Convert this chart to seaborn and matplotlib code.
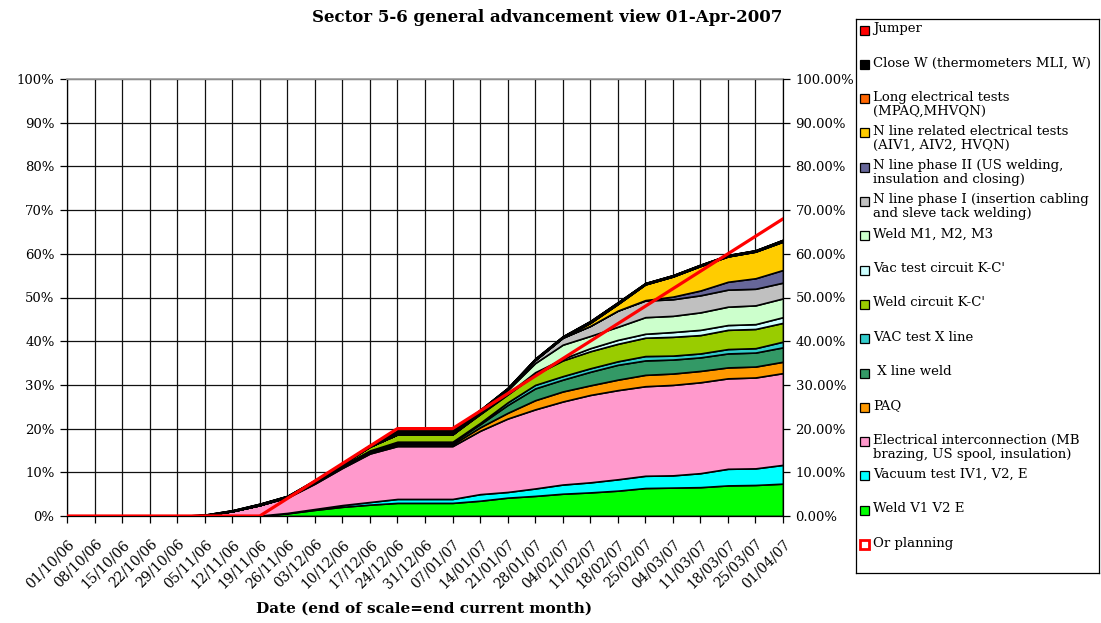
import matplotlib
matplotlib.use('Agg')
import matplotlib.pyplot as plt
from matplotlib.patches import Rectangle
import numpy as np
import seaborn as sns

# weekly dates on the category axis
dates = ['01/10/06', '08/10/06', '15/10/06', '22/10/06', '29/10/06', '05/11/06',
         '12/11/06', '19/11/06', '26/11/06', '03/12/06', '10/12/06', '17/12/06',
         '24/12/06', '31/12/06', '07/01/07', '14/01/07', '21/01/07', '28/01/07',
         '04/02/07', '11/02/07', '18/02/07', '25/02/07', '04/03/07', '11/03/07',
         '18/03/07', '25/03/07', '01/04/07']

# stacked activity shares (% of sector), bottom to top
weld_v1v2e = [0, 0, 0, 0, 0, 0, 0, 0.1, 0.6, 1.4, 2.1, 2.6, 3.0, 3.0, 3.0, 3.5, 4.2, 4.6,
              5.1, 5.4, 5.8, 6.4, 6.5, 6.6, 7.0, 7.1, 7.4]
vacuum_test = [0, 0, 0, 0, 0, 0, 0, 0, 0.1, 0.2, 0.4, 0.6, 0.9, 0.9, 0.9, 1.5, 1.3, 1.7,
               2.1, 2.3, 2.6, 2.8, 2.8, 3.2, 3.8, 3.8, 4.3]
elec_interconn = [0, 0, 0, 0, 0, 0.2, 1.1, 2.4, 3.5, 5.8, 8.5, 11.1, 12.1, 12.1, 12.1, 14.5,
                  16.8, 18.1, 19.0, 20.0, 20.4, 20.5, 20.7, 20.8, 20.7, 20.8, 21.0]
paq = [0, 0, 0, 0, 0, 0, 0, 0, 0.1, 0.2, 0.3, 0.3, 0.4, 0.4, 0.4, 0.8, 1.3, 2.1,
       2.3, 2.2, 2.4, 2.6, 2.6, 2.6, 2.5, 2.5, 2.6]
x_line_weld = [0, 0, 0, 0, 0, 0, 0, 0, 0.05, 0.2, 0.2, 0.3, 0.4, 0.4, 0.4, 0.7, 1.8, 2.7,
               2.7, 3.1, 3.4, 3.3, 3.2, 3.1, 3.2, 3.2, 3.3]
vac_x_line = [0, 0, 0, 0, 0, 0, 0, 0, 0.05, 0.05, 0.1, 0.1, 0.2, 0.2, 0.2, 0.3, 0.6, 0.8,
              0.8, 0.8, 0.8, 1.0, 0.9, 0.9, 1.0, 1.0, 1.3]
weld_kc = [0, 0, 0, 0, 0, 0, 0, 0, 0, 0.1, 0.3, 0.9, 1.7, 1.7, 1.7, 2.0, 1.8, 2.4,
           3.6, 3.9, 4.0, 4.2, 4.3, 4.2, 4.4, 4.4, 4.3]
vac_kc = [0, 0, 0, 0, 0, 0, 0, 0, 0, 0, 0, 0, 0, 0, 0, 0.1, 0.2, 0.5,
          0.4, 0.7, 0.9, 0.9, 1.1, 1.2, 1.1, 1.1, 1.3]
weld_m = [0, 0, 0, 0, 0, 0, 0, 0, 0, 0, 0, 0, 0, 0, 0, 0.4, 0.8, 2.1,
          3.2, 2.8, 3.0, 3.8, 3.7, 4.0, 4.2, 4.3, 4.3]
n_phase1 = [0, 0, 0, 0, 0, 0, 0, 0, 0, 0, 0, 0, 0, 0, 0, 0.1, 0.2, 0.7,
            1.6, 2.3, 3.7, 3.8, 3.8, 3.9, 3.9, 3.8, 3.6]
n_phase2 = [0, 0, 0, 0, 0, 0, 0, 0, 0, 0, 0, 0, 0, 0, 0, 0, 0, 0,
            0, 0, 0, 0.1, 0.6, 1.1, 1.8, 2.4, 2.9]
n_elec = [0, 0, 0, 0, 0, 0, 0, 0, 0, 0, 0, 0, 0, 0, 0, 0, 0, 0,
          0, 0.7, 1.5, 3.6, 4.6, 5.6, 5.8, 6.1, 6.5]
long_elec = [0] * 27
close_w = [0, 0, 0, 0, 0, 0.1, 0.2, 0.3, 0.2, 0.25, 0.2, 0.3, 0.8, 0.8, 0.8, 0.4, 0.3, 0.3,
           0.3, 0.4, 0.4, 0.3, 0.3, 0.3, 0.3, 0.3, 0.4]
jumper = [0] * 27

# planned progress
planning = [0, 0, 0, 0, 0, 0, 0, 0, 4, 8, 12, 16, 20, 20, 20, 24, 28, 32,
            36, 40, 44, 48, 52, 56, 60, 64, 68]

labels = ['Weld V1 V2 E', 'Vacuum test IV1, V2, E',
          'Electrical interconnection (MB\nbrazing, US spool, insulation)',
          'PAQ', ' X line weld', 'VAC test X line', "Weld circuit K-C'",
          "Vac test circuit K-C'", 'Weld M1, M2, M3',
          'N line phase I (insertion cabling\nand sleve tack welding)',
          'N line phase II (US welding,\ninsulation and closing)',
          'N line related electrical tests\n(AIV1, AIV2, HVQN)',
          'Long electrical tests\n(MPAQ,MHVQN)',
          'Close W (thermometers MLI, W)', 'Jumper']
colors = ['#00FF00', '#00FFFF', '#FF99CC', '#FF9900', '#339966', '#33CCCC', '#99CC00',
          '#CCFFFF', '#CCFFCC', '#C0C0C0', '#666699', '#FFCC00', '#FF6600', '#000000', '#FF0000']
series = [weld_v1v2e, vacuum_test, elec_interconn, paq, x_line_weld, vac_x_line, weld_kc,
          vac_kc, weld_m, n_phase1, n_phase2, n_elec, long_elec, close_w, jumper]

sns.set_theme(style='white')
plt.rcParams['font.family'] = ['DejaVu Serif']
plt.rcParams['text.color'] = 'black'
plt.rcParams['xtick.color'] = 'black'
plt.rcParams['ytick.color'] = 'black'
plt.rcParams['axes.labelcolor'] = 'black'

W, H = 1101, 623
fig = plt.figure(figsize=(W / 100, H / 100), dpi=100)
ax = fig.add_axes([67 / W, 1 - 516 / H, (783 - 67) / W, (516 - 79) / H])

x = np.arange(len(dates))
ax.stackplot(x, *series, colors=colors, edgecolor='black', linewidth=1.2, zorder=2)
sns.lineplot(x=x, y=planning, ax=ax, color='#FF0000', linewidth=2.3, zorder=3, legend=False)

ax.set_xlim(0, len(dates) - 1)
ax.set_ylim(0, 100)
ax.set_xticks(x)
ax.set_xticklabels(dates, rotation=45, ha='right', va='top', rotation_mode='anchor',
                   fontsize=10)
ax.set_yticks(np.arange(0, 101, 10))
ax.set_yticklabels([f'{v}%' for v in range(0, 101, 10)], fontsize=9.5)
ax.grid(True, color='#111111', linewidth=0.9, zorder=0)
ax.set_axisbelow(True)
ax.tick_params(axis='x', direction='out', length=5, width=0.9, color='black', pad=10,
               bottom=True)
ax.tick_params(axis='y', direction='out', length=5, width=0.9, color='black', pad=4, left=True)
for s in ['left', 'bottom']:
    ax.spines[s].set_color('black')
    ax.spines[s].set_linewidth(0.9)
ax.spines['top'].set_color('#A0A0A0')
ax.spines['right'].set_visible(False)

ax2 = ax.twinx()
ax2.set_ylim(0, 1)
ax2.set_yticks(np.arange(0, 1.01, 0.1))
ax2.set_yticklabels([f'{v:.2f}%' for v in np.arange(0, 101, 10)], fontsize=9.5)
ax2.tick_params(axis='y', direction='out', length=5, width=0.9, color='black', pad=4, right=True)
ax2.grid(False)
for s in ['left', 'top', 'bottom']:
    ax2.spines[s].set_visible(False)
ax2.spines['right'].set_color('black')
ax2.spines['right'].set_linewidth(0.9)

fig.text(547 / W, 1 - 18 / H, 'Sector 5-6 general advancement view 01-Apr-2007',
         ha='center', va='center', fontsize=12, fontweight='bold')
fig.text(424 / W, 1 - 609 / H, 'Date (end of scale=end current month)',
         ha='center', va='center', fontsize=11, fontweight='bold')

# legend box drawn in pixel units
lax = fig.add_axes([856 / W, 1 - 573 / H, (1099 - 856) / W, (573 - 19) / H])
lax.set_xlim(856, 1099)
lax.set_ylim(573, 19)
lax.set_xticks([])
lax.set_yticks([])
for s in lax.spines.values():
    s.set_color('black')
    s.set_linewidth(0.9)
lax.set_facecolor('white')

entries = list(zip(labels, colors))[::-1]
for i, (lab, col) in enumerate(entries):
    yc = 30 + i * 34.3
    lax.add_patch(Rectangle((860, yc - 4.5), 9, 9, facecolor=col, edgecolor='black',
                            linewidth=0.9))
    lax.text(873, yc - 8, lab, ha='left', va='top', fontsize=9.5, linespacing=1.1)
yc = 30 + len(entries) * 34.3
lax.add_patch(Rectangle((860, yc - 4.5), 9, 9, facecolor='white', edgecolor='#FF0000',
                        linewidth=2))
lax.text(873, yc - 8, 'Or planning', ha='left', va='top', fontsize=9.5)

fig.savefig('out.png', dpi=100, facecolor='white')
